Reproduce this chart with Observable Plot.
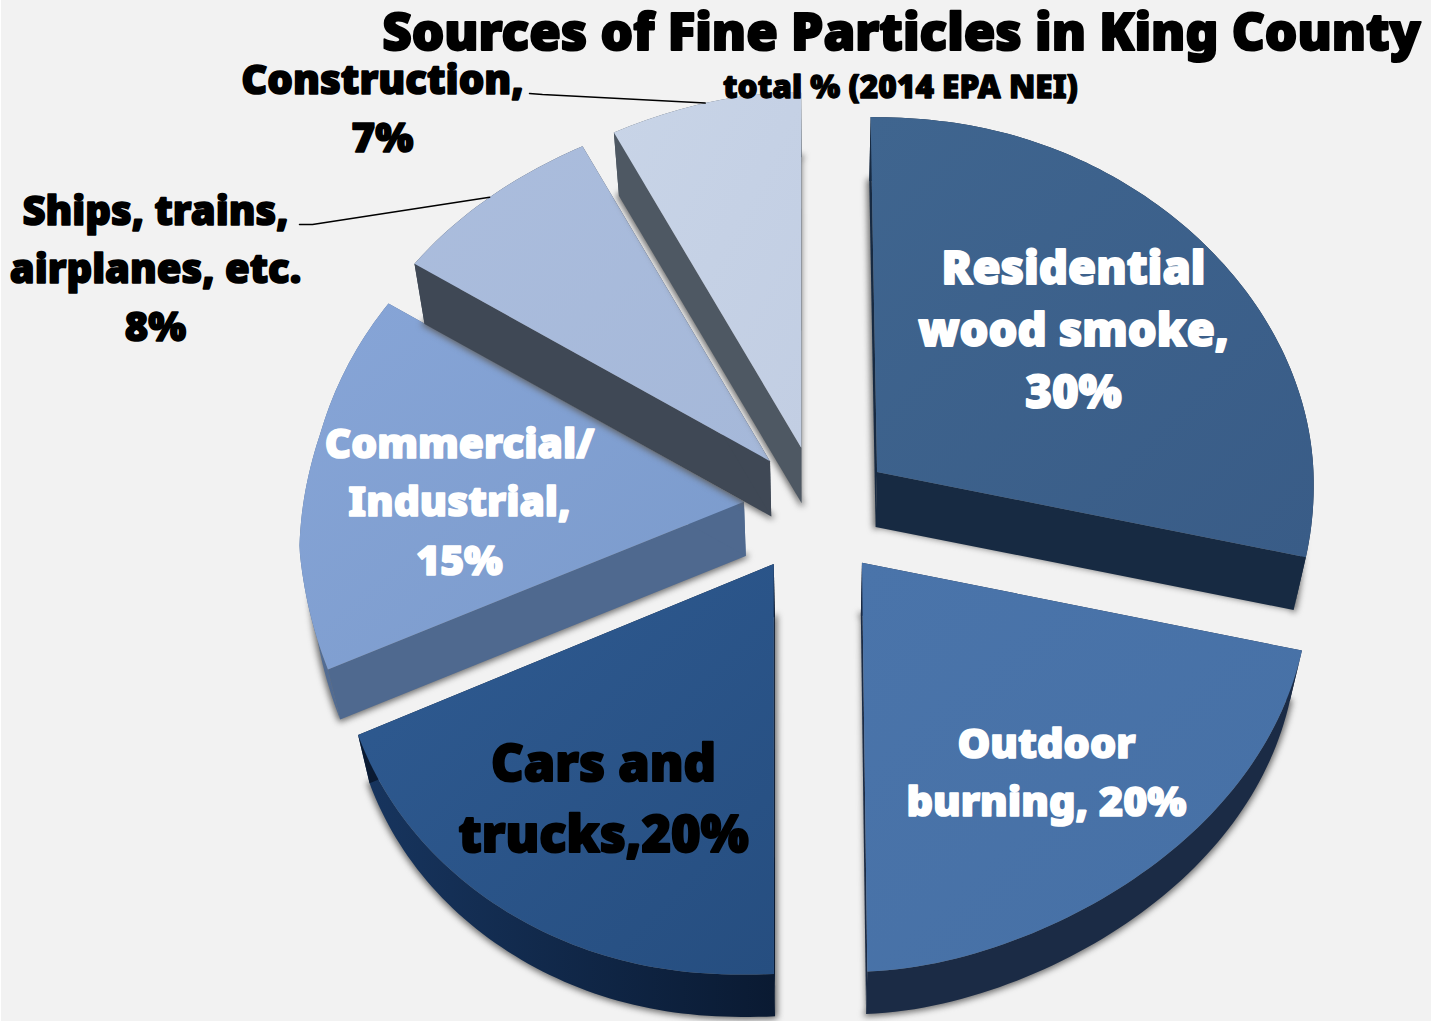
<!DOCTYPE html>
<html>
<head>
<meta charset="utf-8">
<script src="https://cdn.jsdelivr.net/npm/d3@7"></script>
<script src="https://cdn.jsdelivr.net/npm/@observablehq/plot@0.6"></script>
<style>
  html, body { margin: 0; padding: 0; background: #f2f2f2; }
  svg { display: block; }
</style>
</head>
<body>
<div id="chart"></div>
<script>
// PM2.5 source shares, clockwise from twelve o'clock
const sources = ["Residential wood smoke", "Outdoor burning", "Cars and trucks", "Commercial/Industrial", "Ships, trains, airplanes, etc.", "Construction"];
const shares = [30, 20, 20, 15, 8, 7];

// Face and side colours per source
const topLight = ["#3f658f", "#4a74aa", "#2f5b92", "#87a5d7", "#abbddd", "#c8d4e7"];
const topDark = ["#395c87", "#4670a5", "#264e80", "#7a9acb", "#a5b8d9", "#c2cee3"];
const sideLeft = ["#172a42", "#1b2b45", "#17355f", "#536d94", "#414a58", "#4e5863"];
const sideRight = ["#172a42", "#1b2b45", "#0a1a32", "#4f698f", "#3f4855", "#4e5863"];

// Painted from the front slices backwards: each later slice overlaps the earlier ones
const drawOrder = [2, 1, 0, 3, 4, 5];

// Label text, built from the shares so numbers stay in step with the slices
const labelLines = [
  `Residential\nwood smoke,\n${shares[0]}%`,
  `Outdoor\nburning, ${shares[1]}%`,
  `Cars and\ntrucks,${shares[2]}%`,
  `Commercial/\nIndustrial,\n${shares[3]}%`,
  `Ships, trains,\nairplanes, etc.\n${shares[4]}%`,
  `Construction,\n${shares[5]}%`
];
const labelX = [1073, 1046, 603, 459, 155, 382];
const labelY = [325.5, 768, 793.5, 497, 263.5, 104];
const labelSize = [45.5, 41.3, 50.5, 40.8, 40, 40.3];
const labelSpacing = [1.36, 1.41, 1.39, 1.43, 1.45, 1.44];
const labelColor = ["white", "white", "black", "white", "black", "black"];

const title = "Sources of Fine Particles in King County";
const subtitle = "total % (2014 EPA NEI)";

// Tilted-disc projection of the exploded pie
const cx = 817, cy = 510, explode = 0.17, depth = 54, shrink = 0.025;
function project(X, Y, z = 0) {
  const w = 1 - 0.055 * Y;
  const absX = Math.abs(X);
  const leftBulge = 25 * Math.max(0, -X - 0.9) * Math.max(0, 1 - 3.5 * Math.abs(Y));
  const x0 = cx + (438 * X + 26 * Y * absX - leftBulge) / w;
  const shear = -32 * X * 1.07 * (X * X) / (X * X + 0.08);
  const frontSag = 28 * X * X * Math.max(Y, 0) * (1 - Y);
  const backLeftDip = 30 * Math.max(0, -X) * Math.max(0, -Y - 0.7);
  const y0 = cy + (381 * Y + shear - 18 * X * Math.min(Y, 0.4) + frontSag + backLeftDip) / w;
  const s = 1 - shrink * z;
  return [cx + (x0 - cx) * s, cy + (y0 - cy) * s + depth * z];
}

// Angular extents from the shares
const total = d3.sum(shares);
const edges = d3.cumsum([0, ...shares]).map((v) => (v / total) * 2 * Math.PI);
function apexOf(i) {
  const mid = (edges[i] + edges[i + 1]) / 2;
  return [explode * Math.sin(mid), -explode * Math.cos(mid)];
}
function rimPoint(i, a, z = 0) {
  const [ax, ay] = apexOf(i);
  return project(ax + Math.sin(a), ay - Math.cos(a), z);
}
function rimAngles(i) {
  const n = Math.ceil((edges[i + 1] - edges[i]) / 0.02);
  return d3.range(n + 1).map((k) => edges[i] + ((edges[i + 1] - edges[i]) * k) / n);
}
const point = ([x, y]) => ({x, y});
function face(i, z) {
  const [ax, ay] = apexOf(i);
  return [project(ax, ay, z), ...rimAngles(i).map((a) => rimPoint(i, a, z))].map(point);
}
function rimSide(i) {
  const angles = rimAngles(i);
  return [...angles.map((a) => rimPoint(i, a, 0)), ...angles.slice().reverse().map((a) => rimPoint(i, a, 1))].map(point);
}
function radialSide(i, a) {
  const [ax, ay] = apexOf(i);
  return [project(ax, ay, 0), rimPoint(i, a, 0), rimPoint(i, a, 1), project(ax, ay, 1)].map(point);
}

// Gradient definitions used by the slice faces and sides
function gradients() {
  const defs = d3.create("svg:defs");
  const add = (id, from, to, x2, y2) => {
    const g = defs.append("linearGradient").attr("id", id).attr("x1", 0).attr("y1", 0).attr("x2", x2).attr("y2", y2);
    g.append("stop").attr("offset", "0%").attr("stop-color", from);
    g.append("stop").attr("offset", "100%").attr("stop-color", to);
  };
  shares.forEach((_, i) => {
    add(`face${i}`, topLight[i], topDark[i], 1, 1);
    add(`side${i}`, sideLeft[i], sideRight[i], 1, 0);
  });
  return defs.node();
}

const font = "'Noto Sans', sans-serif";
const line = (data, options) => Plot.line(data, {x: "x", y: "y", curve: "linear", ...options});

const marks = [gradients];
for (const i of drawOrder) {
  const bottom = face(i, 1);
  marks.push(
    // soft contact shadow around the slab's underside
    line(bottom, {fill: "#5f5f5f", stroke: "#5f5f5f", strokeWidth: 5, strokeLinejoin: "round", fillOpacity: 0.85, strokeOpacity: 0.85, imageFilter: "blur(3px)"}),
    line(rimSide(i), {fill: `url(#side${i})`, stroke: "none"}),
    line(radialSide(i, edges[i]), {fill: sideRight[i], stroke: "none"}),
    line(radialSide(i, edges[i + 1]), {fill: sideRight[i], stroke: "none"}),
    line(face(i, 0), {fill: `url(#face${i})`, stroke: "none"})
  );
}

// Leader lines from the two outside labels to their slices
const midAngle = (i) => (edges[i] + edges[i + 1]) / 2;
const leaderShips = [[299, 224], [312, 224], rimPoint(4, midAngle(4))].map(point);
const leaderConstruction = [[529, 93], [542, 94], rimPoint(5, midAngle(5))].map(point);
marks.push(
  line(leaderShips, {stroke: "black", strokeWidth: 1.5}),
  line(leaderConstruction, {stroke: "black", strokeWidth: 1.5})
);

// Title block and slice labels
const heavyText = (text, x, y, size, color, spacing = 1.2) =>
  Plot.text([text], {
    x: () => x, y: () => y, text: (d) => d, fontFamily: font, fontWeight: 900, fontSize: size,
    fill: color, stroke: color, strokeWidth: size * 0.04, lineHeight: spacing, textAnchor: "middle", lineAnchor: "middle"
  });
marks.push(heavyText(title, 901, 29.5, 51.2, "black"));
marks.push(heavyText(subtitle, 900, 85, 31.6, "black"));
labelLines.forEach((text, i) => {
  marks.push(heavyText(text, labelX[i], labelY[i], labelSize[i], labelColor[i], labelSpacing[i]));
});

const chart = Plot.plot({
  width: 1431, height: 1021,
  margin: 0,
  x: {domain: [0, 1431], range: [0, 1431], axis: null},
  y: {domain: [0, 1021], range: [0, 1021], axis: null},
  style: {background: "linear-gradient(to right, white 1px, #f2f2f2 1px)", overflow: "hidden"},
  marks
});
document.getElementById("chart").append(chart);
</script>
</body>
</html>
